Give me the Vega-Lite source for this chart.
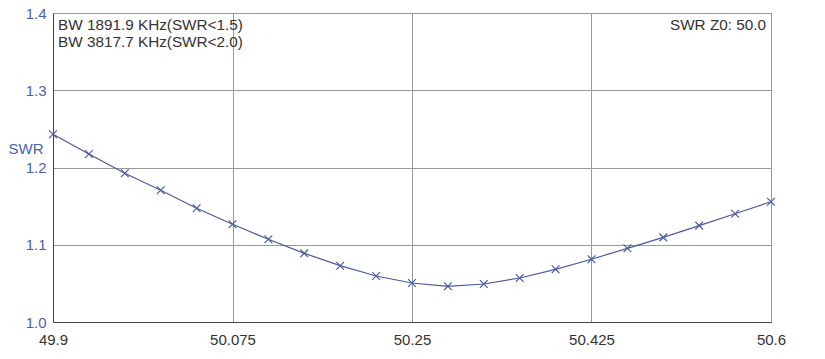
{
  "$schema": "https://vega.github.io/schema/vega-lite/v6.json",
  "autosize": "none",
  "width": 718,
  "height": 309,
  "padding": {"left": 53, "top": 13, "right": 54, "bottom": 37},
  "background": "white",
  "config": {
    "view": {"stroke": "#555555", "strokeWidth": 1},
    "font": "Liberation Sans"
  },
  "data": {
    "values": [
      {"freq": 49.9, "swr": 1.243},
      {"freq": 49.935, "swr": 1.2175},
      {"freq": 49.97, "swr": 1.1925},
      {"freq": 50.005, "swr": 1.1705},
      {"freq": 50.04, "swr": 1.1472},
      {"freq": 50.075, "swr": 1.1265},
      {"freq": 50.11, "swr": 1.1071},
      {"freq": 50.145, "swr": 1.0889},
      {"freq": 50.18, "swr": 1.0729},
      {"freq": 50.215, "swr": 1.0595},
      {"freq": 50.25, "swr": 1.0505},
      {"freq": 50.285, "swr": 1.0462},
      {"freq": 50.32, "swr": 1.0492},
      {"freq": 50.355, "swr": 1.057},
      {"freq": 50.39, "swr": 1.0682},
      {"freq": 50.425, "swr": 1.0812},
      {"freq": 50.46, "swr": 1.0954},
      {"freq": 50.495, "swr": 1.1096},
      {"freq": 50.53, "swr": 1.1247},
      {"freq": 50.565, "swr": 1.1402},
      {"freq": 50.6, "swr": 1.1557}
    ]
  },
  "encoding": {
    "x": {
      "field": "freq",
      "type": "quantitative",
      "scale": {"domain": [49.9, 50.6], "nice": false, "zero": false},
      "axis": {
        "values": [49.9, 50.075, 50.25, 50.425, 50.6],
        "labelExpr": "format(datum.value, '.3~f')",
        "title": null,
        "ticks": false,
        "domain": true,
        "domainColor": "#444444",
        "grid": true,
        "gridColor": "#999999",
        "gridWidth": 1,
        "labelFontSize": 15,
        "labelColor": "#333333",
        "labelPadding": 10,
        "labelFlush": false
      }
    },
    "y": {
      "field": "swr",
      "type": "quantitative",
      "scale": {"domain": [1.0, 1.4], "nice": false, "zero": false},
      "axis": {
        "values": [1.0, 1.1, 1.2, 1.3, 1.4],
        "format": ".1f",
        "title": "SWR",
        "titleAngle": 0,
        "titleAlign": "left",
        "titleBaseline": "middle",
        "titleX": -45,
        "titleY": 135,
        "titleFontSize": 15,
        "titleFontWeight": "normal",
        "titleColor": "#4a5fae",
        "ticks": false,
        "domain": true,
        "domainColor": "#444444",
        "grid": true,
        "gridColor": "#999999",
        "gridWidth": 1,
        "labelFontSize": 15,
        "labelColor": "#4a5fae",
        "labelPadding": 7,
        "labelFlush": false
      }
    }
  },
  "layer": [
    {
      "mark": {"type": "line", "color": "#4a5a9e", "strokeWidth": 1.2}
    },
    {
      "mark": {
        "type": "point",
        "shape": "M-1,-1L1,1M1,-1L-1,1",
        "filled": false,
        "size": 60,
        "stroke": "#4a5a9e",
        "strokeWidth": 1.2,
        "opacity": 1
      }
    },
    {
      "data": {"values": [{"freq": 49.9, "swr": 1.4, "label": "BW 1891.9 KHz(SWR<1.5)"}]},
      "mark": {"type": "text", "align": "left", "baseline": "alphabetic", "dx": 5, "dy": 17, "fontSize": 15.3, "color": "#333333"},
      "encoding": {"text": {"field": "label"}}
    },
    {
      "data": {"values": [{"freq": 49.9, "swr": 1.4, "label": "BW 3817.7 KHz(SWR<2.0)"}]},
      "mark": {"type": "text", "align": "left", "baseline": "alphabetic", "dx": 5, "dy": 34, "fontSize": 15.3, "color": "#333333"},
      "encoding": {"text": {"field": "label"}}
    },
    {
      "data": {"values": [{"freq": 50.6, "swr": 1.4, "label": "SWR Z0: 50.0"}]},
      "mark": {"type": "text", "align": "right", "baseline": "alphabetic", "dx": -5, "dy": 17, "fontSize": 15.3, "color": "#333333"},
      "encoding": {"text": {"field": "label"}}
    }
  ]
}
